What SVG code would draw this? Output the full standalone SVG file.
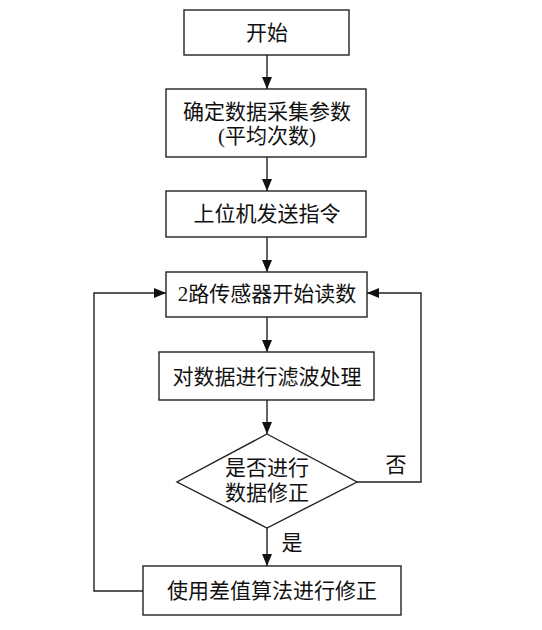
<svg xmlns="http://www.w3.org/2000/svg" width="542" height="630" viewBox="0 0 542 630">
<style>
.box{fill:#fff;stroke:#222;stroke-width:1.4}
.t{font-family:"Liberation Serif","Noto Sans CJK SC",serif;font-size:21px;fill:#111;text-anchor:middle;dominant-baseline:central}
.c{fill:none;stroke:#222;stroke-width:1.4}
</style>
<defs>
<marker id="ah" markerWidth="12" markerHeight="10" refX="12" refY="5" orient="auto" markerUnits="userSpaceOnUse">
<path d="M0,0 L12,5 L0,10 Z" fill="#111"/>
</marker>
</defs>
<rect width="542" height="630" fill="#fff"/>
<g id="connectors">
<line class="c" x1="267" y1="55" x2="267" y2="89" marker-end="url(#ah)"/>
<line class="c" x1="267" y1="157" x2="267" y2="191" marker-end="url(#ah)"/>
<line class="c" x1="267" y1="237" x2="267" y2="272" marker-end="url(#ah)"/>
<line class="c" x1="267" y1="317" x2="267" y2="352" marker-end="url(#ah)"/>
<line class="c" x1="267" y1="400" x2="267" y2="434" marker-end="url(#ah)"/>
<line class="c" x1="267" y1="528" x2="267" y2="566" marker-end="url(#ah)"/>
<polyline class="c" points="357,482 421,482 421,293 367,293" marker-end="url(#ah)"/>
<polyline class="c" points="143,591 94,591 94,293 166,293" marker-end="url(#ah)"/>
<text class="t" x="396" y="465">否</text>
<text class="t" x="292" y="543">是</text>
</g>
<g id="start">
<rect class="box" x="184" y="10" width="165" height="45"/>
<text class="t" x="267" y="33">开始</text>
</g>
<g id="params">
<rect class="box" x="166" y="89" width="200" height="68"/>
<text class="t" x="267" y="112">确定数据采集参数</text>
<text class="t" x="267" y="136">(平均次数)</text>
</g>
<g id="send">
<rect class="box" x="166" y="191" width="200" height="46"/>
<text class="t" x="267" y="214">上位机发送指令</text>
</g>
<g id="read">
<rect class="box" x="166" y="272" width="201" height="45"/>
<text class="t" x="267" y="294">2路传感器开始读数</text>
</g>
<g id="filter">
<rect class="box" x="159" y="352" width="215" height="48"/>
<text class="t" x="267" y="377">对数据进行滤波处理</text>
</g>
<g id="decide">
<polygon class="box" points="267,434 357,482 267,528 177,482"/>
<text class="t" x="267" y="468">是否进行</text>
<text class="t" x="267" y="493">数据修正</text>
</g>
<g id="correct">
<rect class="box" x="143" y="566" width="258" height="49"/>
<text class="t" x="272" y="591">使用差值算法进行修正</text>
</g>
</svg>
